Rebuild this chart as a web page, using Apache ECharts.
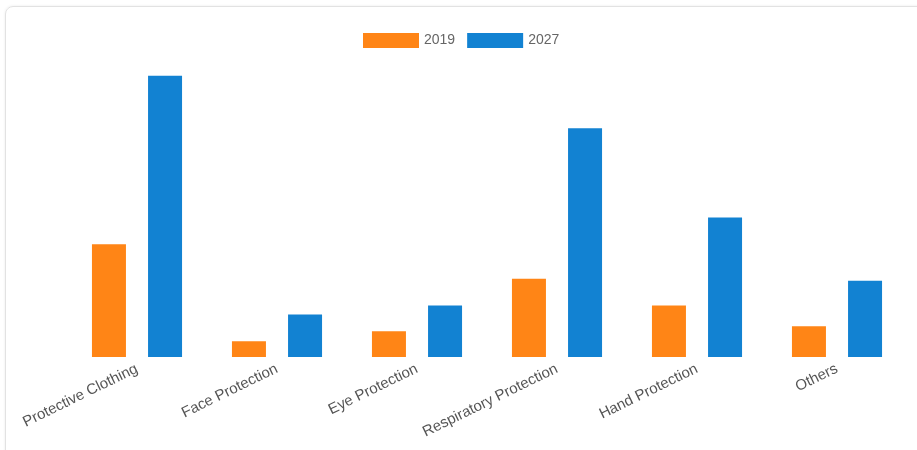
<!DOCTYPE html>
<html><head><meta charset="utf-8">
<script src="https://cdn.jsdelivr.net/npm/echarts@6/dist/echarts.min.js"></script>
<style>
html,body{margin:0;padding:0;background:#fff;width:917px;height:450px;overflow:hidden;}
#card{position:absolute;left:5px;top:6px;width:930px;height:460px;border:1px solid #e2e2e2;border-radius:8px;box-shadow:0 0 3px rgba(0,0,0,0.08);}
#c{position:absolute;left:0;top:0;width:917px;height:450px;}
</style></head>
<body><div id="card"></div><div id="c"></div>
<script>
const categories = ['Protective Clothing','Face Protection','Eye Protection','Respiratory Protection','Hand Protection','Others'];
const seriesNames = ['2019','2027'];
const values2019 = [11.4, 1.6, 2.6, 7.9, 5.2, 3.1];
const values2027 = [28.4, 4.3, 5.2, 23.1, 14.1, 7.7];
const colors = ['#ff8516','#1282d2'];

const chart = echarts.init(document.getElementById('c'));
chart.setOption({
  animation:false,
  legend:{
    left:358, top:28, itemWidth:56, itemHeight:15, itemGap:12, icon:'rect',
    textStyle:{color:'#666', fontSize:14, fontFamily:'Liberation Sans Narrow, Liberation Sans, sans-serif'},
    data:seriesNames
  },
  grid:{left:67, right:10, top:60, bottom:93},
  xAxis:{
    type:'category', data:categories,
    axisLine:{show:false}, axisTick:{show:false},
    axisLabel:{rotate:26, color:'#555', fontSize:15, margin:11, interval:0, fontFamily:'Liberation Sans, Arial, sans-serif'}
  },
  yAxis:{type:'value', min:0, max:30, show:false, splitLine:{show:false}},
  series:[
    {name:seriesNames[0], type:'bar', data:values2019, barWidth:34, barGap:'65%', itemStyle:{color:colors[0]}},
    {name:seriesNames[1], type:'bar', data:values2027, barWidth:34, itemStyle:{color:colors[1]}}
  ]
});
</script></body></html>
